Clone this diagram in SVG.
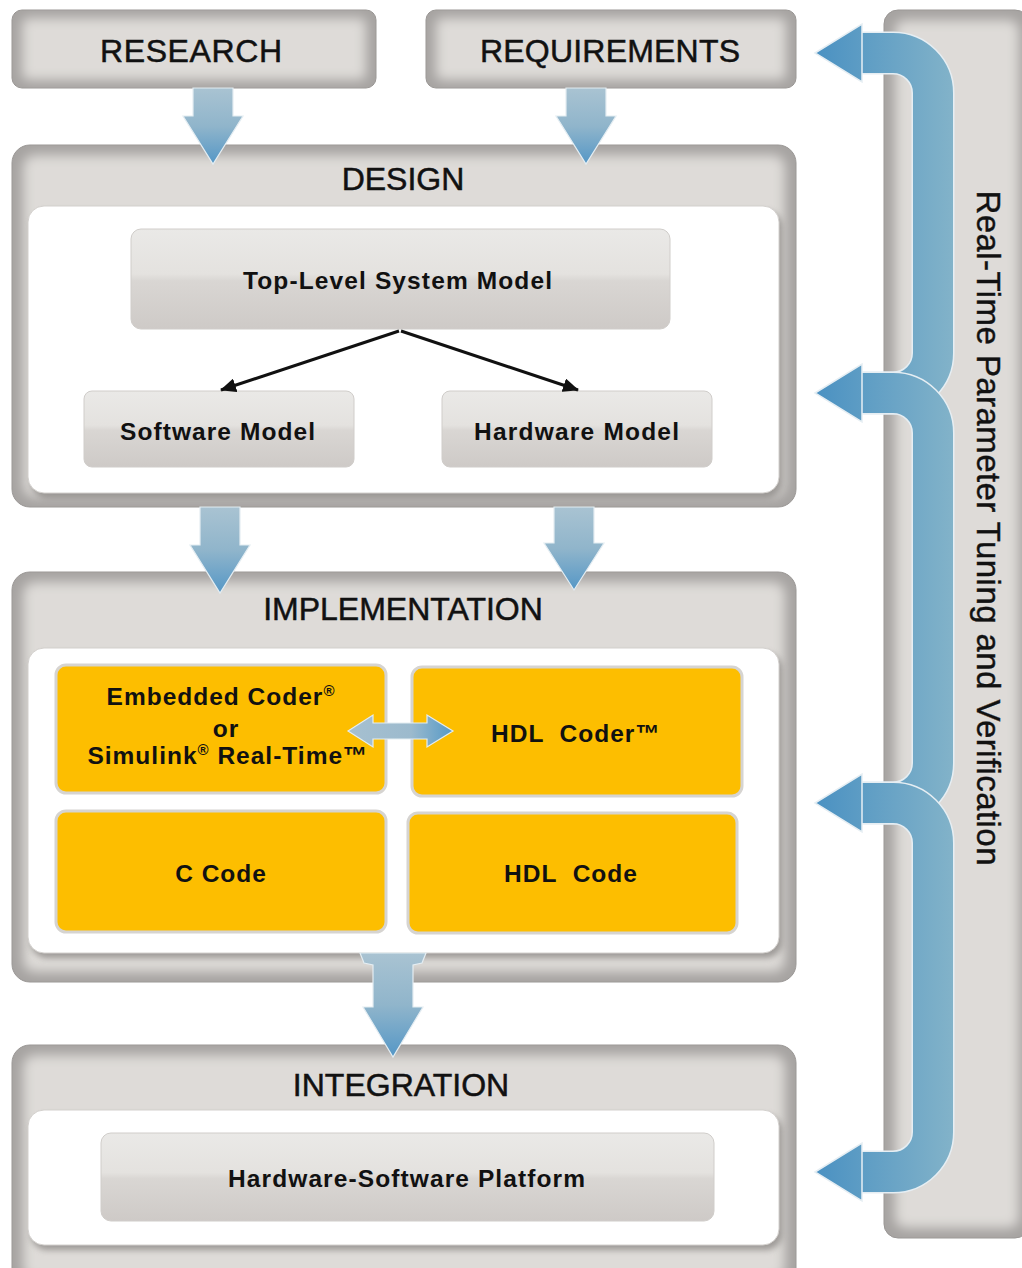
<svg xmlns="http://www.w3.org/2000/svg" width="1022" height="1268" viewBox="0 0 1022 1268">
<style>
.hd{font-family:"Liberation Sans",Arial,sans-serif;font-size:32px;fill:#111;stroke:#111;stroke-width:0.5;text-anchor:middle}
.lb{font-family:"Liberation Sans",Arial,sans-serif;font-weight:bold;font-size:24.5px;fill:#111;text-anchor:middle;letter-spacing:1px}
.vt{font-family:"Liberation Sans",Arial,sans-serif;font-size:33px;fill:#111;stroke:#111;stroke-width:0.4;text-anchor:middle}
.ob{fill:#a6a3a1;stroke:#9a9795;stroke-width:1}
.obi{fill:#dedbd8}
.wp{fill:#ffffff;stroke:#d3d0cd;stroke-width:1}
.sh{fill:#7a7775;opacity:0.65}
.gn{fill:url(#gGrey);stroke:#d0cdca;stroke-width:1}
.on{fill:#fdbe00;stroke:#d6d4d1;stroke-width:3}
.ba{fill:url(#gBlueV);stroke:#e4edf2;stroke-width:1.2}
.bl{stroke:#e6eef3;stroke-width:43;fill:none}
.bs{stroke:url(#gBlueH);stroke-width:40;fill:none}
.bh{fill:url(#gBlueH);stroke:#e6eef3;stroke-width:1.5}
.ln{stroke:#111;stroke-width:3;fill:none}
</style>
<defs>
<filter id="blur" x="-0.3" y="-0.3" width="1.6" height="1.6"><feGaussianBlur stdDeviation="6"/></filter>
<filter id="blur3" x="-0.3" y="-0.3" width="1.6" height="1.6"><feGaussianBlur stdDeviation="3"/></filter>
<linearGradient id="gGrey" x1="0" y1="0" x2="0" y2="1">
<stop offset="0" stop-color="#eae9e7"/><stop offset="0.45" stop-color="#e4e2df"/><stop offset="0.52" stop-color="#d9d6d3"/><stop offset="1" stop-color="#cecac7"/>
</linearGradient>
<linearGradient id="gBlueV" x1="0" y1="0" x2="0" y2="1">
<stop offset="0" stop-color="#a9c3d2"/><stop offset="0.5" stop-color="#90b5cb"/><stop offset="1" stop-color="#5597c6"/>
</linearGradient>
<linearGradient id="gBlueH" gradientUnits="userSpaceOnUse" x1="815" y1="0" x2="955" y2="0">
<stop offset="0" stop-color="#4a91c2"/><stop offset="1" stop-color="#83b3c9"/>
</linearGradient>
<linearGradient id="gDbl" x1="0" y1="0" x2="1" y2="0">
<stop offset="0" stop-color="#a6c0d0"/><stop offset="0.6" stop-color="#9cbacd"/><stop offset="1" stop-color="#5599c7"/>
</linearGradient>
<marker id="ah" markerUnits="userSpaceOnUse" markerWidth="16" markerHeight="14" refX="15" refY="7" orient="auto">
<path d="M0,0 L16,7 L0,14 z" fill="#111"/>
</marker>
<clipPath id="cRes"><rect x="12" y="10" width="364" height="78" rx="10"/></clipPath>
<clipPath id="cReq"><rect x="426" y="10" width="370" height="78" rx="10"/></clipPath>
<clipPath id="cDes"><rect x="12" y="145" width="784" height="362" rx="18"/></clipPath>
<clipPath id="cImp"><rect x="12" y="572" width="784" height="410" rx="18"/></clipPath>
<clipPath id="cInt"><rect x="12" y="1045" width="784" height="245" rx="18"/></clipPath>
<clipPath id="cRt"><rect x="884" y="10" width="145" height="1228" rx="14"/></clipPath>
</defs>
<rect x="0" y="0" width="1022" height="1268" fill="#ffffff"/>

<g id="research">
<rect class="ob" x="12" y="10" width="364" height="78" rx="10"/>
<rect class="obi" x="22" y="18" width="344" height="62" rx="6" filter="url(#blur)" clip-path="url(#cRes)"/>
<text class="hd" x="191" y="62" textLength="182">RESEARCH</text>
</g>

<g id="requirements">
<rect class="ob" x="426" y="10" width="370" height="78" rx="10"/>
<rect class="obi" x="436" y="18" width="350" height="62" rx="6" filter="url(#blur)" clip-path="url(#cReq)"/>
<text class="hd" x="610" y="62" textLength="260">REQUIREMENTS</text>
</g>

<g id="design">
<rect class="ob" x="12" y="145" width="784" height="362" rx="18"/>
<rect class="obi" x="23" y="155" width="762" height="342" rx="12" filter="url(#blur)" clip-path="url(#cDes)"/>
<text class="hd" x="403" y="190">DESIGN</text>
<rect class="sh" x="31" y="211" width="751" height="287" rx="16" filter="url(#blur3)"/>
<rect class="wp" x="28" y="206" width="751" height="287" rx="16"/>
</g>

<g id="top-level">
<rect class="gn" x="131" y="229" width="539" height="100" rx="10"/>
<text class="lb" x="398" y="289" textLength="310">Top-Level System Model</text>
</g>
<g id="software-model">
<rect class="gn" x="84" y="391" width="270" height="76" rx="8"/>
<text class="lb" x="218" y="440" textLength="196">Software Model</text>
</g>
<g id="hardware-model">
<rect class="gn" x="442" y="391" width="270" height="76" rx="8"/>
<text class="lb" x="577" y="440" textLength="206">Hardware Model</text>
</g>

<g id="implementation">
<rect class="ob" x="12" y="572" width="784" height="410" rx="18"/>
<rect class="obi" x="23" y="582" width="762" height="390" rx="12" filter="url(#blur)" clip-path="url(#cImp)"/>
<text class="hd" x="403" y="620">IMPLEMENTATION</text>
<rect class="sh" x="31" y="653" width="751" height="305" rx="16" filter="url(#blur3)"/>
<rect class="wp" x="28" y="648" width="751" height="305" rx="16"/>
</g>

<g id="embedded-coder">
<rect class="on" x="56" y="665" width="330" height="128" rx="10"/>
<text class="lb" x="221" y="705">Embedded Coder<tspan font-size="15" baseline-shift="9">®</tspan></text>
<text class="lb" x="226" y="737">or</text>
<text class="lb" x="228" y="764">Simulink<tspan font-size="15" baseline-shift="9">®</tspan> Real-Time™</text>
</g>
<g id="hdl-coder">
<rect class="on" x="412" y="667" width="330" height="129" rx="10"/>
<text class="lb" x="576" y="742" xml:space="preserve">HDL  Coder™</text>
</g>
<g id="c-code">
<rect class="on" x="56" y="811" width="330" height="121" rx="10"/>
<text class="lb" x="221" y="882">C Code</text>
</g>
<g id="hdl-code">
<rect class="on" x="408" y="813" width="329" height="120" rx="10"/>
<text class="lb" x="571" y="882" xml:space="preserve">HDL  Code</text>
</g>

<g id="integration">
<rect class="ob" x="12" y="1045" width="784" height="245" rx="18"/>
<rect class="obi" x="23" y="1055" width="762" height="225" rx="12" filter="url(#blur)" clip-path="url(#cInt)"/>
<text class="hd" x="401" y="1096">INTEGRATION</text>
<rect class="sh" x="31" y="1115" width="751" height="135" rx="16" filter="url(#blur3)"/>
<rect class="wp" x="28" y="1110" width="751" height="135" rx="16"/>
</g>
<g id="platform">
<rect class="gn" x="101" y="1133" width="613" height="88" rx="10"/>
<text class="lb" x="407" y="1187" textLength="358">Hardware-Software Platform</text>
</g>

<g id="verification-panel">
<rect class="ob" x="884" y="10" width="145" height="1228" rx="14"/>
<rect class="obi" x="895" y="20" width="124" height="1208" rx="10" filter="url(#blur)" clip-path="url(#cRt)"/>
<text class="vt" transform="translate(977,528) rotate(90)" textLength="675">Real-Time Parameter Tuning and Verification</text>
</g>

<g id="connectors">
<polygon class="ba" points="193,88 233,88 233,116 243,116 213,164 183,116 193,116"/>
<polygon class="ba" points="566,88 606,88 606,116 616,116 586,164 556,116 566,116"/>
<polygon class="ba" points="200,507 240,507 240,545 250,545 220,593 190,545 200,545"/>
<polygon class="ba" points="554,507 594,507 594,543 604,543 574,590 544,543 554,543"/>
<polygon class="ba" points="360,953 426,953 422,963 413,965 413,1007 423,1007 393,1057 363,1007 373,1007 373,965 364,963"/>
<line class="ln" x1="399" y1="331" x2="221" y2="390" marker-end="url(#ah)"/>
<line class="ln" x1="401" y1="331" x2="578" y2="390" marker-end="url(#ah)"/>
<polygon points="348,731 373,715 373,723 427,723 427,715 453,731 427,747 427,739 373,739 373,747" fill="url(#gDbl)" stroke="#e4edf2" stroke-width="1.2"/>
<path class="bl" d="M860 53 H893 A40 40 0 0 1 933 93 V353 A40 40 0 0 1 893 393 H862"/>
<path class="bs" d="M860 53 H893 A40 40 0 0 1 933 93 V353 A40 40 0 0 1 893 393 H862"/>
<path class="bl" d="M860 393 H893 A40 40 0 0 1 933 433 V763 A40 40 0 0 1 893 803 H862"/>
<path class="bs" d="M860 393 H893 A40 40 0 0 1 933 433 V763 A40 40 0 0 1 893 803 H862"/>
<path class="bl" d="M860 803 H893 A40 40 0 0 1 933 843 V1132 A40 40 0 0 1 893 1172 H860"/>
<path class="bs" d="M860 803 H893 A40 40 0 0 1 933 843 V1132 A40 40 0 0 1 893 1172 H860"/>
<polygon class="bh" points="815,53 862,24 862,82"/>
<polygon class="bh" points="815,393 862,364 862,422"/>
<polygon class="bh" points="815,803 862,774 862,832"/>
<polygon class="bh" points="815,1172 862,1143 862,1201"/>
</g>
</svg>
